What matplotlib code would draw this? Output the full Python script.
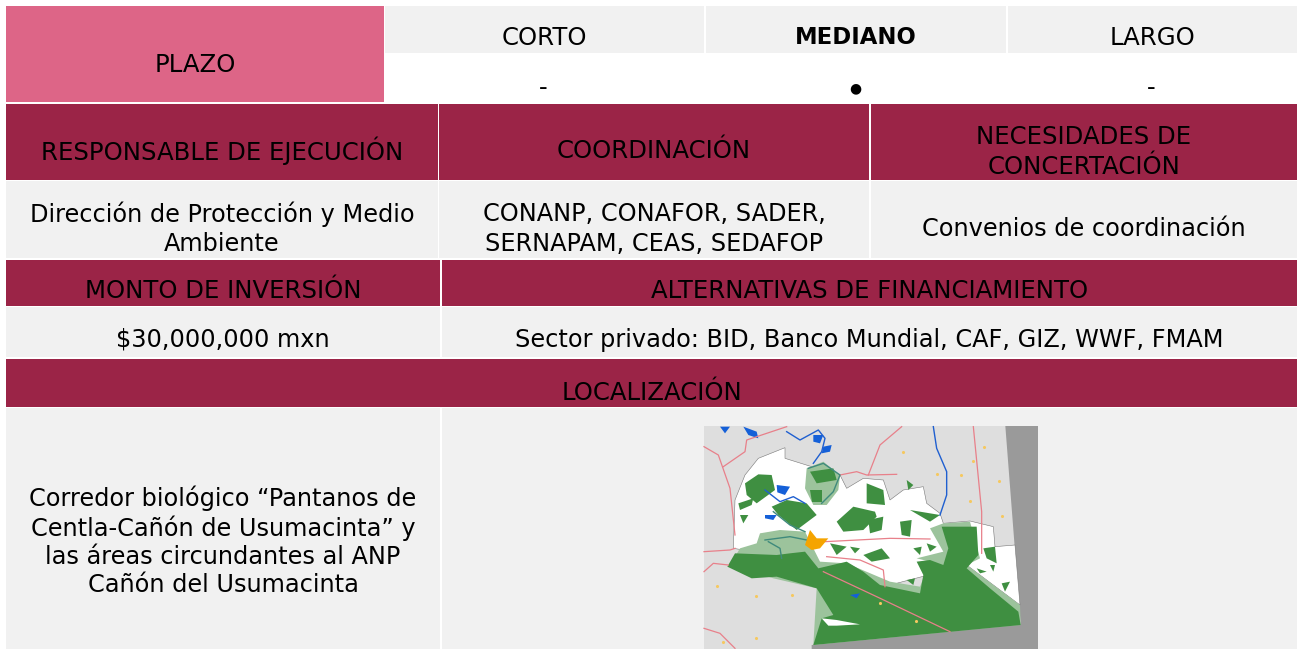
import matplotlib
matplotlib.use("Agg")
import matplotlib.pyplot as plt
from matplotlib.patches import Rectangle, Polygon

PINK = "#dd6587"
WINE = "#9b2447"
GRAY = "#f1f1f1"
CAPS_SIZE = 17.6
TEXT_SIZE = 17.3

plazo_labels = ["CORTO", "MEDIANO", "LARGO"]
plazo_marks = ["-", "●", "-"]
header_1 = ["RESPONSABLE DE EJECUCIÓN", "COORDINACIÓN", "NECESIDADES DE\nCONCERTACIÓN"]
row_1 = ["Dirección de Protección y Medio\nAmbiente",
         "CONANP, CONAFOR, SADER,\nSERNAPAM, CEAS, SEDAFOP",
         "Convenios de coordinación"]
header_2 = ["MONTO DE INVERSIÓN", "ALTERNATIVAS DE FINANCIAMIENTO"]
row_2 = ["$30,000,000 mxn", "Sector privado: BID, Banco Mundial, CAF, GIZ, WWF, FMAM"]
loc_title = "LOCALIZACIÓN"
loc_text = "Corredor biológico “Pantanos de\nCentla-Cañón de Usumacinta” y\nlas áreas circundantes al ANP\nCañón del Usumacinta"

# map shapes, in coordinates of a 3x crop starting at (690, 415)
map_white = [(135,255),(165,180),(205,130),(285,98),(285,130),(365,155),(450,180),(470,220),(520,190),(580,195),
             (600,255),(640,225),(700,215),(710,265),(750,295),(760,325),(840,318),(910,335),(915,395),(975,390),
             (990,570),(830,450),(600,510),(380,440),(130,400)]
map_light = [(120,450),(150,400),(200,385),(210,355),(270,345),(345,350),(390,440),(470,445),(600,500),(690,515),
             (720,440),(680,430),(760,410),(720,340),(760,325),(840,320),(870,430),(830,450),(990,570),
             (992,630),(370,690),(380,520),(250,490)]
map_light2 = [(350,160),(400,140),(450,180),(445,225),(410,270),(370,270),(345,220)]
map_dark = [(112,455),(135,415),(260,420),(300,415),(345,410),(385,460),(470,440),(520,470),(570,510),(690,535),
            (700,480),(680,440),(720,435),(760,450),(775,400),(755,335),(860,335),(865,420),(830,460),(900,520),
            (985,590),(992,630),(370,690),(395,610),(430,600),(380,520),(260,485),(185,490)]
map_blobs = [
    [(165,205),(205,178),(245,180),(255,225),(200,265),(170,240)],
    [(245,275),(290,255),(350,265),(380,300),(320,345),(265,300)],
    [(440,320),(490,275),(555,290),(560,305),(520,345),(460,350)],
    [(535,315),(580,305),(575,345),(540,355)],
    [(530,205),(580,225),(585,270),(530,265)],
    [(520,420),(575,400),(600,430),(545,440)],
    [(630,320),(665,315),(660,365),(635,360)],
    [(420,385),(470,395),(440,420)],
    [(480,395),(510,400),(495,415)],
    [(145,265),(190,250),(185,270),(150,285)],
    [(150,300),(175,300),(160,325)],
    [(660,285),(750,300),(720,320)],
    [(650,195),(670,210),(655,225)],
    [(710,385),(740,395),(720,410)],
    [(670,400),(695,395),(690,420)],
    [(880,400),(915,395),(920,445),(890,430)],
    [(935,505),(960,500),(945,530)],
    [(900,450),(915,450),(910,470)],
    [(860,460),(890,470),(870,475)],
    [(650,495),(675,490),(670,510)],
    [(360,170),(430,160),(440,195),(380,205)],
    [(360,225),(395,225),(395,260),(365,260)],
]
map_blue = [
    [(260,210),(300,215),(285,240),(262,232)],
    [(225,300),(260,300),(250,315),(225,310)],
    [(370,60),(400,60),(390,85),(370,80)],
    [(400,95),(425,90),(420,110),(395,115)],
    [(90,35),(120,35),(105,55)],
    [(160,35),(200,50),(205,70),(175,60)],
    [(480,540),(510,535),(500,550)],
]
map_white_strip = [(395,610),(440,615),(510,628),(440,632),(415,632)]
map_orange = [(345,390),(360,345),(380,370),(415,370),(390,400),(365,405)]
map_dots = [(82,513),(197,542),(305,540),(197,668),(98,682),(850,137),(928,198),(935,304),(740,177),(812,180),
            (640,110),(840,257),(883,95),(570,565),(677,617)]
map_roads = [
    [(42,95),(85,120),(120,220),(135,360)],
    [(100,155),(165,110),(170,75),(290,35)],
    [(535,180),(570,90),(635,35)],
    [(850,35),(875,290),(875,415)],
    [(450,180),(500,170),(530,180),(620,178)],
    [(405,380),(600,370),(720,372)],
    [(410,425),(510,435),(580,465),(585,515)],
    [(400,470),(560,545),(780,650)],
    [(42,640),(90,655),(135,700)],
    [(42,410),(120,405),(135,400)],
    [(42,470),(70,445),(115,450)],
]
map_rivers = [
    [(290,50),(330,75),(385,45),(405,70),(395,110),(370,145)],
    [(225,225),(270,260),(310,245),(345,265)],
    [(730,35),(740,100),(770,170),(770,240),(750,300)],
]
map_teal = [
    [(355,160),(400,145),(450,180),(430,230),(395,265)],
    [(250,290),(300,330),(345,350)],
    [(225,375),(300,365),(350,375)],
    [(235,380),(270,400),(275,430)],
]


def px(points):
    return [(690 + x / 3, 415 + y / 3) for x, y in points]


def cell(ax, x0, y0, x1, y1, color, label=None, ty=None, weight="normal", size=CAPS_SIZE, spacing=1.28):
    ax.add_patch(Rectangle((x0, y0), x1 - x0, y1 - y0, facecolor=color, edgecolor="none", zorder=1))
    if label is not None:
        ax.text((x0 + x1) / 2, (y0 + y1) / 2 if ty is None else ty, label,
                ha="center", va="center", color="black", fontweight=weight, fontsize=size,
                linespacing=spacing, zorder=5)


plt.rcParams["font.family"] = ["DejaVu Sans"]
fig = plt.figure(figsize=(12.97, 6.49), dpi=100)
ax = fig.add_axes([0, 0, 1, 1])
ax.set_xlim(0, 1297)
ax.set_ylim(649, 0)
ax.axis("off")

# plazo block
cell(ax, 6, 6, 384, 102, PINK, "PLAZO", ty=65)
spans = [(385, 704), (706, 1006), (1008, 1297)]
for i, (x0, x1) in enumerate(spans):
    w = "bold" if plazo_labels[i] == "MEDIANO" else "normal"
    s = 16.4 if w == "bold" else CAPS_SIZE
    cell(ax, x0, 6, x1, 53, GRAY, plazo_labels[i], ty=38, weight=w, size=s)
    ax.text((x0 + x1) / 2 - 1, 88, plazo_marks[i], ha="center", va="center",
            fontsize=TEXT_SIZE if plazo_marks[i] == "-" else 10, color="black")

# first header and row
spans = [(6, 438), (439, 869), (871, 1297)]
for i, (x0, x1) in enumerate(spans):
    cell(ax, x0, 104, x1, 180, WINE, header_1[i], ty=152 if i == 2 else 151)
    cell(ax, x0, 181, x1, 258, GRAY, row_1[i], ty=229, size=TEXT_SIZE, spacing=1.28)

# second header and row
spans = [(6, 440), (442, 1297)]
for i, (x0, x1) in enumerate(spans):
    cell(ax, x0, 260, x1, 306, WINE, header_2[i], ty=291)
    cell(ax, x0, 307, x1, 357, GRAY, row_2[i], ty=340, size=TEXT_SIZE)

# localizacion
cell(ax, 6, 359, 1297, 407, WINE, loc_title, ty=393)
cell(ax, 6, 408, 440, 649, GRAY, loc_text, ty=541, size=TEXT_SIZE, spacing=1.22)
cell(ax, 442, 408, 1297, 649, GRAY)

# map
ax.add_patch(Polygon(px([(42,33),(1043,33),(1043,702),(42,702)]), facecolor="#9a9a9a", edgecolor="none", zorder=2))
ax.add_patch(Polygon(px([(42,33),(946,33),(992,628),(365,690),(365,702),(42,702)]), facecolor="#dedede", edgecolor="none", zorder=2.1))
ax.add_patch(Polygon(px(map_white), facecolor="white", edgecolor="#777777", lw=0.4, zorder=2.2))
ax.add_patch(Polygon(px(map_light), facecolor="#9cc39c", edgecolor="none", zorder=2.3))
ax.add_patch(Polygon(px(map_light2), facecolor="#9cc39c", edgecolor="none", zorder=2.3))
ax.add_patch(Polygon(px(map_dark), facecolor="#3f8f41", edgecolor="none", zorder=2.4))
for blob in map_blobs:
    ax.add_patch(Polygon(px(blob), facecolor="#3f8f41", edgecolor="none", zorder=2.5))
for blob in map_blue:
    ax.add_patch(Polygon(px(blob), facecolor="#1560d8", edgecolor="none", zorder=2.6))
ax.add_patch(Polygon(px(map_white_strip), facecolor="white", edgecolor="none", zorder=2.6))
for road in map_roads:
    xs, ys = zip(*px(road))
    ax.plot(xs, ys, color="#e8808a", lw=0.9, zorder=2.7)
for river in map_rivers:
    xs, ys = zip(*px(river))
    ax.plot(xs, ys, color="#1f5fd0", lw=1.0, zorder=2.7)
for line in map_teal:
    xs, ys = zip(*px(line))
    ax.plot(xs, ys, color="#3f8a7c", lw=1.0, zorder=2.7)
ax.add_patch(Polygon(px(map_orange), facecolor="#f5a400", edgecolor="none", zorder=2.8))
dx, dy = zip(*px(map_dots))
ax.scatter(dx, dy, s=5, color="#f5c860", linewidths=0, zorder=2.8)

fig.savefig("out.png", dpi=100, facecolor="white")
plt.close(fig)
